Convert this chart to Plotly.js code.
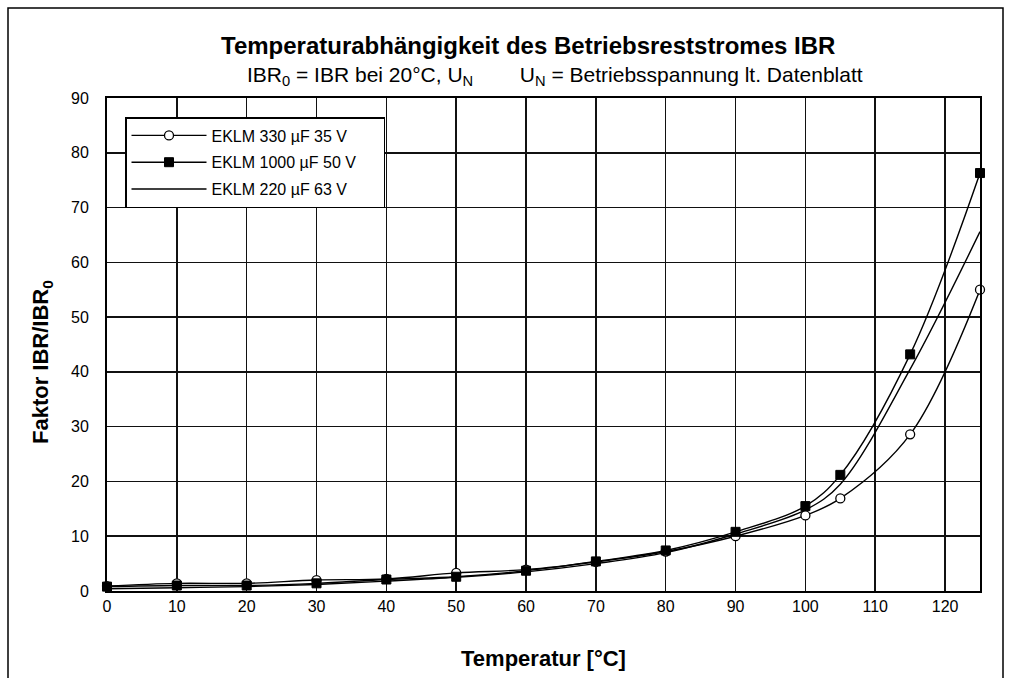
<!DOCTYPE html>
<html>
<head>
<meta charset="utf-8">
<script src="https://cdn.plot.ly/plotly-3.0.1.min.js"></script>
<style>html,body{margin:0;padding:0;background:#fff;}#chart{width:1011px;height:678px;}</style>
</head>
<body>
<div id="chart"></div>
<script>
// Temperature [°C]
const temps = [0, 10, 20, 30, 40, 50, 60, 70, 80, 90, 100, 105, 115, 125];
// Factor IBR/IBR0
const eklm330_35 = [0.9, 1.4, 1.4, 2.0, 2.2, 3.3, 3.9, 5.3, 7.2, 10.0, 13.8, 16.9, 28.6, 55.0];
const eklm1000_50 = [0.8, 1.0, 1.0, 1.4, 2.1, 2.6, 3.7, 5.4, 7.4, 10.8, 15.5, 21.2, 43.2, 76.3];
const eklm220_63 = [0.4, 0.6, 0.8, 1.2, 1.8, 2.5, 3.5, 5.0, 7.0, 10.4, 14.8, 19.5, 40.5, 65.6];
const seriesNames = ["EKLM 330 µF 35 V", "EKLM 1000 µF 50 V", "EKLM 220 µF 63 V"];
const xTicks = [0, 10, 20, 30, 40, 50, 60, 70, 80, 90, 100, 110, 120];
const yTicks = [0, 10, 20, 30, 40, 50, 60, 70, 80, 90];

const FONT = "Liberation Sans, Arial, sans-serif";
const PAD = "\u00A0\u00A0\u00A0\u00A0\u00A0";

const traces = [
  {
    x: temps, y: eklm330_35, name: seriesNames[0] + PAD, legendgroup: "a",
    type: "scatter", mode: "lines+markers", cliponaxis: false,
    line: {color: "#000", width: 1.4, shape: "spline", smoothing: 1},
    marker: {symbol: "circle", size: 9, color: "#fff", line: {color: "#000", width: 1.3}}
  },
  {
    x: temps, y: eklm1000_50, name: seriesNames[1] + PAD, legendgroup: "b",
    type: "scatter", mode: "lines+markers", cliponaxis: false,
    line: {color: "#000", width: 1.4, shape: "spline", smoothing: 1},
    marker: {symbol: "square", size: 9, color: "#000", line: {color: "#000", width: 1}}
  },
  {
    x: temps, y: eklm220_63, name: seriesNames[2] + PAD, legendgroup: "c",
    type: "scatter", mode: "lines", cliponaxis: false,
    line: {color: "#000", width: 1.4, shape: "spline", smoothing: 1}
  }
];

const layout = {
  width: 1011, height: 678,
  margin: {l: 107, r: 31, t: 98, b: 87},
  paper_bgcolor: "#fff", plot_bgcolor: "#fff",
  font: {family: FONT, color: "#000", size: 16},
  showlegend: true,
  legend: {
    x: (125 - 107) / 873, y: (591 - 117) / 493, xanchor: "left", yanchor: "top",
    bgcolor: "#fff", bordercolor: "#000", borderwidth: 1.5,
    font: {family: FONT, size: 16, color: "#000"},
    traceorder: "grouped", tracegroupgap: 3, itemwidth: 75
  },
  xaxis: {
    range: [0, 125], tickvals: xTicks, ticktext: xTicks.map(String),
    showgrid: true, gridcolor: "#111", gridwidth: 1.5,
    zeroline: false, showline: true, linecolor: "#000", linewidth: 2, mirror: true,
    ticks: "", tickfont: {family: FONT, size: 16, color: "#000"},
    title: {text: "<b>Temperatur [°C]</b>", font: {family: FONT, size: 22, color: "#000"}, standoff: 36}
  },
  yaxis: {
    range: [0, 90], tickvals: yTicks, ticktext: yTicks.map(String),
    showgrid: true, gridcolor: "#111", gridwidth: 1.5,
    zeroline: false, showline: true, linecolor: "#000", linewidth: 2, mirror: true,
    ticks: "", ticklabelstandoff: 13, tickfont: {family: FONT, size: 16, color: "#000"}
  },
  annotations: [
    {xref: "paper", yref: "paper", x: (528 - 107) / 873, y: (591 - 46) / 493,
     xanchor: "center", yanchor: "middle", showarrow: false,
     text: "<b>Temperaturabhängigkeit des Betriebsreststromes IBR</b>",
     font: {family: FONT, size: 24, color: "#000"}},
    {xref: "paper", yref: "paper", x: (555 - 107) / 873, y: (591 - 76) / 493,
     xanchor: "center", yanchor: "middle", showarrow: false,
     text: "IBR<sub>0</sub> = IBR bei 20°C, U<sub>N</sub>\u00A0\u00A0\u00A0\u00A0\u00A0\u00A0\u00A0\u00A0U<sub>N</sub> = Betriebsspannung lt. Datenblatt",
     font: {family: FONT, size: 21, color: "#000"}},
    {xref: "paper", yref: "paper", x: (42 - 107) / 873, y: (591 - 362) / 493,
     xanchor: "center", yanchor: "middle", showarrow: false, textangle: -90,
     text: "<b>Faktor IBR/IBR<sub>0</sub></b>",
     font: {family: FONT, size: 22, color: "#000"}}
  ],
  shapes: [
    {type: "rect", xref: "paper", yref: "paper",
     x0: (8 - 107) / 873, x1: (1003 - 107) / 873,
     y0: (591 - 700) / 493, y1: (591 - 8) / 493,
     line: {color: "#000", width: 1.5}, fillcolor: "rgba(0,0,0,0)", layer: "below"}
  ]
};

Plotly.newPlot("chart", traces, layout, {displayModeBar: false, staticPlot: true});
</script>
</body>
</html>
